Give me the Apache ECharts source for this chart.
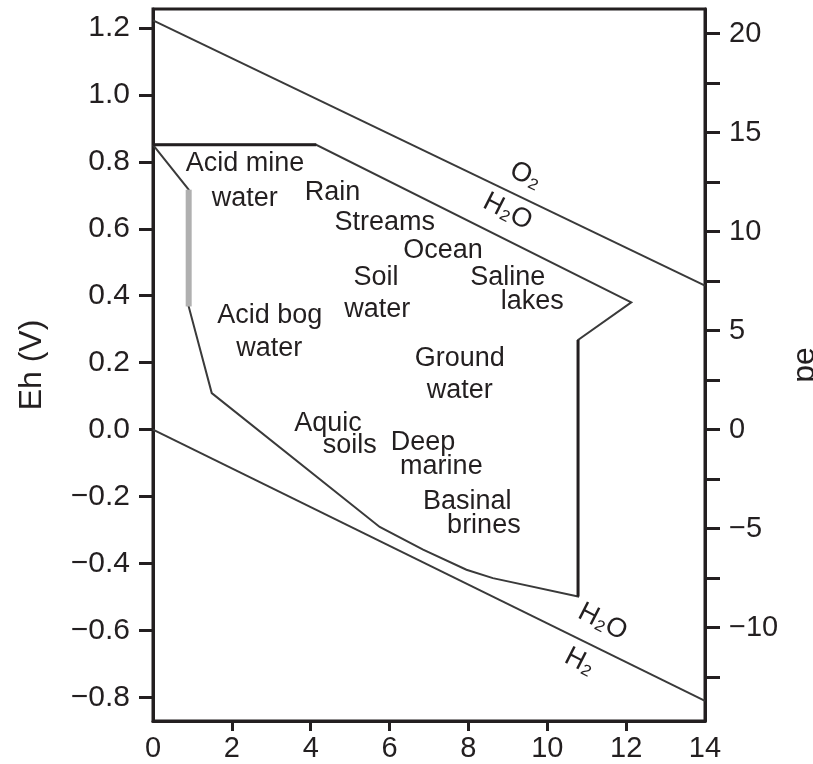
<!DOCTYPE html>
<html>
<head>
<meta charset="utf-8">
<script src="https://cdn.jsdelivr.net/npm/echarts@6/dist/echarts.min.js"></script>
<style>
html,body{margin:0;padding:0;background:#fff;}
#chart{width:813px;height:764px;}
</style>
</head>
<body>
<div id="chart"></div>
<script>
// ---- axis ranges / ticks ----
const EH_PER_PE = 0.05916;
const ehMin = -0.871;
const ehMax = 1.257;
const phTickValues = [2, 4, 6, 8, 10, 12];
const ehTickValues = [-0.8, -0.6, -0.4, -0.2, 0.0, 0.2, 0.4, 0.6, 0.8, 1.0, 1.2];
const peTickValues = [-12.5, -10, -7.5, -5, -2.5, 0, 2.5, 5, 7.5, 10, 12.5, 15, 17.5, 20];
const peLabelValues = [-10, -5, 0, 5, 10, 15, 20];

// ---- water stability lines [pH, Eh] ----
const o2Line = [[0, 1.223], [14, 0.430]];
const h2Line = [[0, 0.0], [14, -0.811]];

// ---- natural waters boundary [pH, Eh] ----
const boundary = [
  [0, 0.851], [4.14, 0.851], [12.13, 0.380], [10.78, 0.268], [10.78, -0.499],
  [8.62, -0.444], [7.95, -0.419], [6.85, -0.359], [5.75, -0.291],
  [1.49, 0.109], [0.905, 0.368], [0.905, 0.717], [0, 0.851]
];
const boundaryTop = [[0, 0.851], [4.14, 0.851]];
const boundaryRight = [[10.78, 0.268], [10.78, -0.499]];
const boundaryGray = [[0.905, 0.368], [0.905, 0.717]];

// ---- region labels [pH, Eh, text, rotation deg] ----
const labelNames = ['Acid mine', 'water', 'Rain', 'Streams', 'Ocean', 'Soil', 'water', 'Saline', 'lakes',
  'Acid bog', 'water', 'Ground', 'water', 'Aquic', 'soils', 'Deep', 'marine', 'Basinal', 'brines',
  'O₂', 'H₂O', 'H₂O', 'H₂'];
const labelPH = [2.333, 2.326, 4.552, 5.876, 7.355, 5.656, 5.686, 8.996, 9.617,
  2.960, 2.947, 7.778, 7.778, 4.438, 4.989, 6.848, 7.314, 7.968, 8.392,
  9.452, 8.996, 11.405, 10.82];
const labelEh = [0.795, 0.691, 0.709, 0.619, 0.534, 0.453, 0.359, 0.454, 0.382,
  0.342, 0.243, 0.212, 0.118, 0.019, -0.049, -0.038, -0.111, -0.215, -0.286,
  0.759, 0.651, -0.575, -0.694];
const labelRot = [0, 0, 0, 0, 0, 0, 0, 0, 0, 0, 0, 0, 0, 0, 0, 0, 0, 0, 0, -25, -27, -27, -27];

const INK = '#231f20';
const FONT = 'Liberation Sans, Arial, sans-serif';

const chart = echarts.init(document.getElementById('chart'), null, {renderer: 'canvas'});

const labelData = labelNames.map((n, i) => ({
  name: n,
  value: [labelPH[i], labelEh[i]],
  label: {rotate: labelRot[i]}
}));

function lineSeries(data, color, width, z) {
  return {
    type: 'line', data: data, symbol: 'none', silent: true, z: z,
    xAxisIndex: 0, yAxisIndex: 0,
    lineStyle: {color: color, width: width, cap: 'butt', join: 'miter', opacity: 1}
  };
}
function minus(s) { return String(s).replace('-', '\u2212'); }

const option = {
  animation: false,
  backgroundColor: '#fff',
  grid: {left: 153, right: 108, top: 9, bottom: 43, show: true, borderColor: INK, borderWidth: 3,
         outerBoundsMode: 'none', containLabel: false},
  xAxis: {
    type: 'value', min: 0, max: 14, interval: 2,
    axisLine: {onZero: false, lineStyle: {color: INK, width: 3}},
    axisTick: {length: 10, customValues: phTickValues, lineStyle: {color: INK, width: 3}},
    axisLabel: {fontSize: 29, color: INK, margin: 13, fontFamily: FONT},
    splitLine: {show: false}
  },
  yAxis: [
    {
      type: 'value', min: ehMin, max: ehMax, position: 'left',
      axisLine: {show: true, onZero: false, lineStyle: {color: INK, width: 3}},
      axisTick: {show: true, length: 14, customValues: ehTickValues, lineStyle: {color: INK, width: 3}},
      axisLabel: {customValues: ehTickValues, fontSize: 30, color: INK, margin: 23, fontFamily: FONT,
                  formatter: v => minus(Number(v).toFixed(1))},
      splitLine: {show: false},
      name: 'Eh (V)', nameLocation: 'middle', nameGap: 105, nameRotate: 90,
      nameTextStyle: {fontSize: 32, color: INK, fontFamily: FONT}
    },
    {
      type: 'value', min: ehMin / EH_PER_PE, max: ehMax / EH_PER_PE, position: 'right',
      axisLine: {show: true, onZero: false, lineStyle: {color: INK, width: 3}},
      axisTick: {show: true, length: 15, customValues: peTickValues, lineStyle: {color: INK, width: 3}},
      axisLabel: {customValues: peLabelValues, fontSize: 29, color: INK, margin: 24, fontFamily: FONT,
                  formatter: v => minus(Math.round(v))},
      splitLine: {show: false},
      name: 'pe', nameLocation: 'middle', nameGap: 77, nameRotate: 90,
      nameTextStyle: {fontSize: 32, color: INK, fontFamily: FONT}
    }
  ],
  series: [
    lineSeries(o2Line, '#3a3a3a', 2, 2),
    lineSeries(h2Line, '#3a3a3a', 2, 2),
    lineSeries(boundary, '#3a3a3a', 2, 3),
    lineSeries(boundaryTop, INK, 3, 4),
    lineSeries(boundaryRight, INK, 3, 4),
    lineSeries(boundaryGray, '#b0b0b0', 6, 4),
    {
      type: 'scatter', data: labelData, symbolSize: 0, silent: true, z: 5,
      xAxisIndex: 0, yAxisIndex: 0,
      itemStyle: {opacity: 1},
      label: {show: true, position: 'inside', formatter: '{b}', fontSize: 27, color: INK, fontFamily: FONT}
    }
  ]
};
chart.setOption(option);
</script>
</body>
</html>
